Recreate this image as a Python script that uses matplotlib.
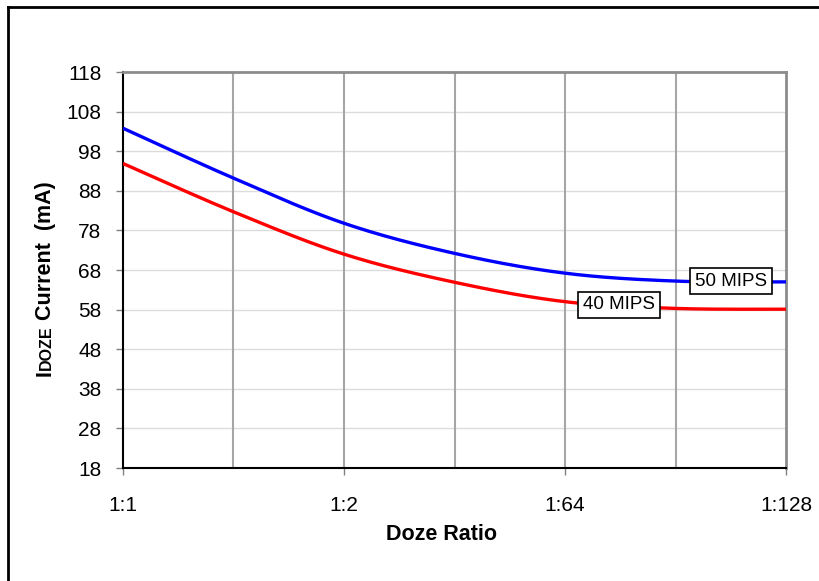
import numpy as np
import matplotlib
matplotlib.use("Agg")
import matplotlib.pyplot as plt
from matplotlib.lines import Line2D

plt.rcParams['font.family'] = ['Liberation Sans', 'DejaVu Sans']

# category positions (7 gridline slots, labels on every other one)
x_pos = [0, 1, 2, 3, 4, 5, 6]
tick_pos = [0, 2, 4, 6]
tick_labels = ['1:1', '1:2', '1:64', '1:128']
mips50 = [103.8, 91.2, 79.8, 72.2, 67.2, 65.2, 65.0]
mips40 = [94.9, 82.7, 72.0, 64.9, 60.0, 58.3, 58.1]
y_ticks = [18, 28, 38, 48, 58, 68, 78, 88, 98, 108, 118]


def smooth(xs, ys, n=40):
    # Catmull-Rom curve, like a spreadsheet "smoothed line"
    xs = np.asarray(xs, float)
    ys = np.asarray(ys, float)
    px = np.concatenate([[xs[0]], xs, [xs[-1]]])
    py = np.concatenate([[ys[0]], ys, [ys[-1]]])
    ox, oy = [], []
    t = np.linspace(0, 1, n)
    for i in range(1, len(px) - 2):
        for p, out in ((px, ox), (py, oy)):
            p0, p1, p2, p3 = p[i - 1], p[i], p[i + 1], p[i + 2]
            out.extend(0.5 * (2 * p1 + (-p0 + p2) * t
                              + (2 * p0 - 5 * p1 + 4 * p2 - p3) * t ** 2
                              + (-p0 + 3 * p1 - 3 * p2 + p3) * t ** 3))
    return ox, oy


fig = plt.figure(figsize=(8.2, 5.81), dpi=100)
ax = fig.add_axes([123 / 820, 1 - 468 / 581, 663 / 820, 396 / 581])

for xv in x_pos[1:-1]:
    ax.axvline(xv, color='#a6a6a6', lw=1.5, zorder=1)
for yv in y_ticks[1:-1]:
    ax.axhline(yv, color='#dcdcdc', lw=1.0, zorder=0)

bx, by = smooth(x_pos, mips50)
rx, ry = smooth(x_pos, mips40)
ax.plot(bx, by, color='#0000ff', lw=2.4, zorder=3, solid_capstyle='butt')
ax.plot(rx, ry, color='#ff0000', lw=2.4, zorder=3, solid_capstyle='butt')

box = dict(boxstyle='square,pad=0.25', fc='white', ec='black', lw=1.2)
ax.text(5.5, 65.2, '50 MIPS', fontsize=13.5, ha='center', va='center', bbox=box, zorder=5)
ax.text(4.49, 59.2, '40 MIPS', fontsize=13.5, ha='center', va='center', bbox=box, zorder=5)

ax.set_xlim(0, 6)
ax.set_ylim(18, 118)
ax.set_yticks(y_ticks)
ax.set_xticks(tick_pos)
ax.set_xticklabels(tick_labels)
ax.tick_params(axis='y', length=5, width=1, color='#808080', pad=10.5, labelsize=15)
ax.tick_params(axis='x', length=5, width=1, color='#808080', pad=15, labelsize=15)

for s in ('left', 'bottom'):
    ax.spines[s].set_color('black')
    ax.spines[s].set_linewidth(1.5)
for s in ('top', 'right'):
    ax.spines[s].set_color('#8c8c8c')
    ax.spines[s].set_linewidth(2)

ax.set_xlabel('Doze Ratio', fontsize=15.5, fontweight='bold')
ax.xaxis.set_label_coords((442 - 123) / 663, -(535 - 468) / 396)
ax.xaxis.label.set_va('center')

# y label with small caps "DOZE"
fig.canvas.draw()
r = fig.canvas.get_renderer()
ylab_x = 51 / 820
y0 = (581 - 376) / 581
parts = [('I', 15.5), ('DOZE', 11.5), (' Current  (mA)', 15.5)]
for txt, fs in parts:
    t = fig.text(ylab_x, y0, txt, fontsize=fs, fontweight='bold', rotation=90,
                 rotation_mode='anchor', ha='left', va='baseline')
    bb = t.get_window_extent(r)
    y0 = bb.y1 / fig.bbox.height

# outer frame (only left and top edges visible)
fig.add_artist(Line2D([8 / 820, 8 / 820], [0, 1 - 7 / 581], color='black', lw=2, transform=fig.transFigure))
fig.add_artist(Line2D([8 / 820, 1], [1 - 7 / 581, 1 - 7 / 581], color='black', lw=2, transform=fig.transFigure))

fig.savefig('out.png', dpi=100)
